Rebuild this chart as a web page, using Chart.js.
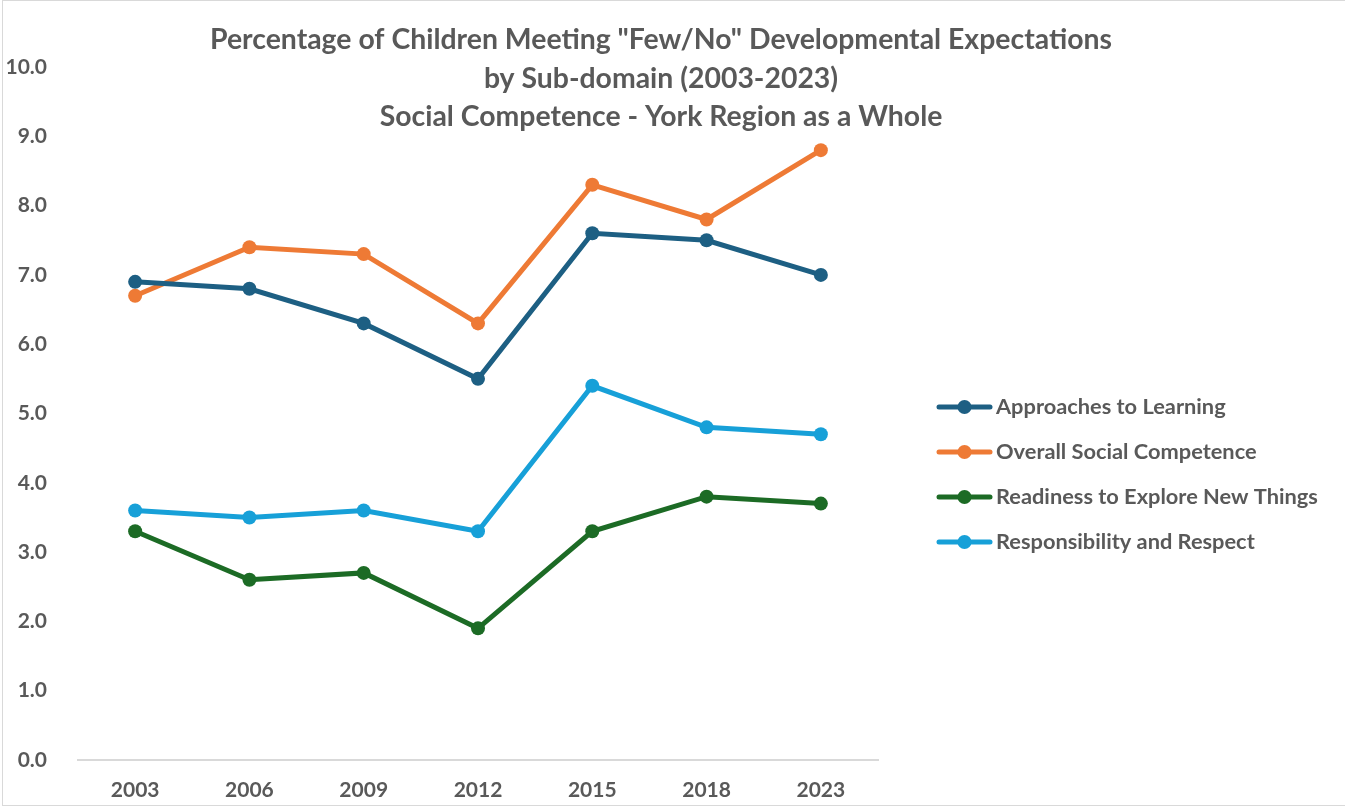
<!DOCTYPE html>
<html>
<head>
<meta charset="utf-8">
<title>Few/No Developmental Expectations - Social Competence</title>
<script src="https://cdn.jsdelivr.net/npm/chart.js@4/dist/chart.umd.min.js"></script>
<style>
  html, body { margin: 0; padding: 0; background: #fff; }
  #wrap { width: 1345px; height: 808px; position: relative; }
</style>
</head>
<body>
<div id="wrap"><canvas id="chart" width="1345" height="808"></canvas></div>
<script>
const years = ['2003', '2006', '2009', '2012', '2015', '2018', '2023'];

const approachesToLearning = [6.9, 6.8, 6.3, 5.5, 7.6, 7.5, 7.0];
const overallSocialCompetence = [6.7, 7.4, 7.3, 6.3, 8.3, 7.8, 8.8];
const readinessToExplore = [3.3, 2.6, 2.7, 1.9, 3.3, 3.8, 3.7];
const responsibilityAndRespect = [3.6, 3.5, 3.6, 3.3, 5.4, 4.8, 4.7];

const titleLines = [
    'Percentage of Children Meeting "Few/No" Developmental Expectations',
    'by Sub-domain (2003-2023)',
    'Social Competence - York Region as a Whole'
];

const textColor = '#595959';
const fontFamily = 'Lato, "Open Sans", sans-serif';

function series(label, data, color) {
    return {
        label: label,
        data: data,
        borderColor: color,
        backgroundColor: color,
        borderWidth: 5,
        pointRadius: 7,
        pointHoverRadius: 7,
        pointBorderWidth: 0,
        tension: 0
    };
}

// title, legend and frame are painted by hand so they can sit over the plot area
const decorations = {
    id: 'decorations',
    afterDraw(chart) {
        const ctx = chart.ctx;
        ctx.save();

        ctx.strokeStyle = '#d9d9d9';
        ctx.lineWidth = 1;
        ctx.strokeRect(2.5, 0.5, 1345, 805);

        ctx.fillStyle = textColor;
        ctx.font = 'bold 28.4px ' + fontFamily;
        ctx.textAlign = 'center';
        ctx.textBaseline = 'middle';
        titleLines.forEach((line, i) => ctx.fillText(line, 661, 40 + i * 38.5));

        ctx.font = 'bold 21.8px ' + fontFamily;
        ctx.textAlign = 'left';
        chart.data.datasets.forEach((ds, i) => {
            const y = 407 + i * 45;
            ctx.strokeStyle = ds.borderColor;
            ctx.lineWidth = 5;
            ctx.lineCap = 'round';
            ctx.beginPath();
            ctx.moveTo(939, y);
            ctx.lineTo(990, y);
            ctx.stroke();
            ctx.fillStyle = ds.borderColor;
            ctx.beginPath();
            ctx.arc(964.5, y, 7, 0, Math.PI * 2);
            ctx.fill();
            ctx.fillStyle = textColor;
            ctx.fillText(ds.label, 996, y);
        });

        ctx.restore();
    }
};

new Chart(document.getElementById('chart').getContext('2d'), {
    type: 'line',
    data: {
        labels: years,
        datasets: [
            series('Approaches to Learning', approachesToLearning, '#1d5f83'),
            series('Overall Social Competence', overallSocialCompetence, '#ee7a35'),
            series('Readiness to Explore New Things', readinessToExplore, '#1c6b25'),
            series('Responsibility and Respect', responsibilityAndRespect, '#17a0d8')
        ]
    },
    options: {
        responsive: false,
        animation: false,
        layout: { padding: { top: 67, left: 7, right: 467, bottom: 0 } },
        plugins: {
            legend: { display: false },
            title: { display: false },
            tooltip: { enabled: false }
        },
        scales: {
            x: {
                offset: true,
                grid: { display: false, drawTicks: false },
                border: { display: true, color: '#d9d9d9', width: 2 },
                ticks: { color: textColor, font: { family: fontFamily, size: 21, weight: 'bold' }, padding: 18 },
                afterFit(scale) { scale.height = 48; }
            },
            y: {
                min: 0,
                max: 10,
                grid: { display: false, drawTicks: false },
                border: { display: false },
                ticks: {
                    stepSize: 1,
                    color: textColor,
                    font: { family: fontFamily, size: 21, weight: 'bold' },
                    padding: 31,
                    callback: v => v.toFixed(1)
                },
                afterFit(scale) { scale.width = 71; }
            }
        }
    },
    plugins: [decorations]
});
</script>
</body>
</html>
